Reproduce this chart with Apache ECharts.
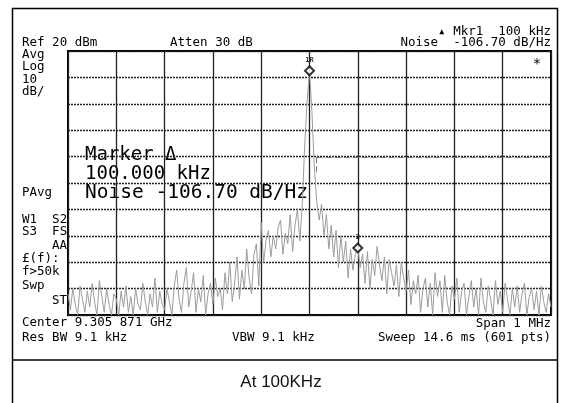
<!DOCTYPE html>
<html><head><meta charset="utf-8">
<script src="https://cdn.jsdelivr.net/npm/echarts@6/dist/echarts.min.js"></script>
<style>html,body{margin:0;padding:0;background:#fff}#c{width:562px;height:403px}</style>
</head><body><div id="c"></div>
<script>
// Frequency offset from center (kHz), step 5 kHz, -500..500
const freqStart = -500, freqStep = 5;
// Trace level (dBm)
const trace = [
-72,-78,-70,-76,-80,-69,-74,-79,-71,-77,-68,-75,-80,-67,-73,-79,-70,-76,-80,-72,
-74,-80,-71,-77,-69,-79,-73,-80,-70,-76,-78,-68,-75,-80,-72,-77,-66,-79,-71,-76,
-78,-70,-75,-80,-69,-63,-74,-79,-68,-62,-77,-71,-64,-79,-70,-75,-65,-80,-72,-68,
-76,-66,-73,-70,-78,-64,-72,-60,-75,-68,-58,-74,-63,-70,-55,-66,-72,-57,-53,-69,
-45,-60,-52,-48,-58,-50,-55,-47,-44,-57,-49,-53,-42,-56,-46,-40,-52,-38,-16,1,
12.5,
-3,-24,-37,-44,-38,-50,-42,-55,-46,-58,-48,-62,-50,-60,-52,-66,-55,-63,-57,-54.6,
-62,-57,-68,-56,-70,-59,-65,-54,-61,-67,-58,-72,-59,-64,-69,-61,-73,-60,-66,-71,
-63,-76,-67,-72,-65,-79,-70,-66,-77,-68,-80,-64,-73,-67,-79,-65,-75,-80,-69,-74,
-66,-79,-71,-68,-80,-73,-67,-77,-70,-80,-66,-75,-79,-69,-74,-80,-67,-76,-71,-79,
-68,-74,-80,-70,-77,-69,-79,-72,-68,-80,-73,-70,-78,-71,-80,-69,-75,-79,-72,-77
];
// Markers: [kHz offset, dBm, label]
const markerFreqs = [0, 100];
const markerLevels = [12.5, -54.6];
const markerLabels = ['1R', '2'];
// Axis settings
const xMin = -500, xMax = 500, xStep = 100;
const yMin = -80, yMax = 20, yStep = 10;

const traceData = trace.map((v, i) => [freqStart + i * freqStep, v]);
const markerData = markerFreqs.map((f, i) => ({value: [f, markerLevels[i]], name: markerLabels[i]}));

const mono = '"DejaVu Sans Mono", monospace';
const t = (x, y, text, size, align) => ({
  type: 'text', x: x, y: y,
  style: {text: text, font: (size || 12.5) + 'px ' + mono, fill: '#000', textAlign: align || 'left', textVerticalAlign: 'middle'}
});

const chart = echarts.init(document.getElementById('c'), null, {renderer: 'canvas'});
chart.setOption({
  animation: false,
  backgroundColor: '#fff',
  grid: {left: 68, top: 51, width: 483, height: 264, show: true, borderColor: '#000', borderWidth: 2, backgroundColor: 'transparent'},
  xAxis: {type: 'value', min: xMin, max: xMax, interval: xStep,
    axisLine: {show: false}, axisTick: {show: false}, axisLabel: {show: false},
    splitLine: {show: true, lineStyle: {color: '#222', width: 1.3, type: 'solid'}}},
  yAxis: {type: 'value', min: yMin, max: yMax, interval: yStep,
    axisLine: {show: false}, axisTick: {show: false}, axisLabel: {show: false},
    splitLine: {show: true, lineStyle: {color: '#222', width: 1.3, type: [2, 1]}}},
  series: [
    {type: 'line', data: traceData, symbol: 'none', lineStyle: {color: '#9c9c9c', width: 1}, z: 3,
     markLine: {silent: true, symbol: 'none', label: {show: false},
       lineStyle: {color: '#777', type: [6, 3], width: 1},
       data: [[{coord: [15, -20.2]}, {coord: [500, -20.2]}], [{coord: [15, -20.2]}, {coord: [15, -26]}]]}},
    {type: 'scatter', data: markerData, symbol: 'diamond', symbolSize: 9,
     itemStyle: {color: '#fff', borderColor: '#000', borderWidth: 2}, z: 5,
     label: {show: true, position: 'top', distance: 2, formatter: p => p.name, fontSize: 7, fontFamily: mono, fontWeight: 'bold', color: '#000'}}
  ],
  graphic: [
    {type: 'rect', shape: {x: 12.5, y: 8.5, width: 545, height: 400}, style: {fill: 'none', stroke: '#000', lineWidth: 1.5}},
    {type: 'line', shape: {x1: 12, y1: 360, x2: 558, y2: 360}, style: {stroke: '#000', lineWidth: 1.5}},
    t(22, 43, 'Ref 20 dBm'), t(170, 43, 'Atten 30 dB'),
    t(551, 32, '\u25B4 Mkr1  100 kHz', 12.5, 'right'),
    t(551, 43, 'Noise  -106.70 dB/Hz', 12.5, 'right'),
    t(22, 55, 'Avg'), t(22, 67, 'Log'), t(22, 80, '10'), t(22, 92, 'dB/'),
    t(22, 193, 'PAvg'),
    t(22, 220, 'W1  S2'), t(22, 232, 'S3  FS'), t(67, 246, 'AA', 12.5, 'right'),
    t(22, 259, '\u00A3(f):'), t(22, 272, 'f>50k'), t(22, 286, 'Swp'), t(67, 301, 'ST', 12.5, 'right'),
    t(22, 323, 'Center 9.305 871 GHz'), t(551, 324, 'Span 1 MHz', 12.5, 'right'),
    t(22, 338, 'Res BW 9.1 kHz'), t(232, 338, 'VBW 9.1 kHz'), t(551, 338, 'Sweep 14.6 ms (601 pts)', 12.5, 'right'),
    t(537, 64, '*', 14, 'center'),
    t(85, 155, 'Marker \u0394', 19), t(85, 174, '100.000 kHz', 19), t(85, 193, 'Noise -106.70 dB/Hz', 19.5),
    {type: 'text', x: 281, y: 382, style: {text: 'At 100KHz', font: '17px "Liberation Sans", Arial, sans-serif', fill: '#111', textAlign: 'center', textVerticalAlign: 'middle'}}
  ]
});
</script></body></html>
